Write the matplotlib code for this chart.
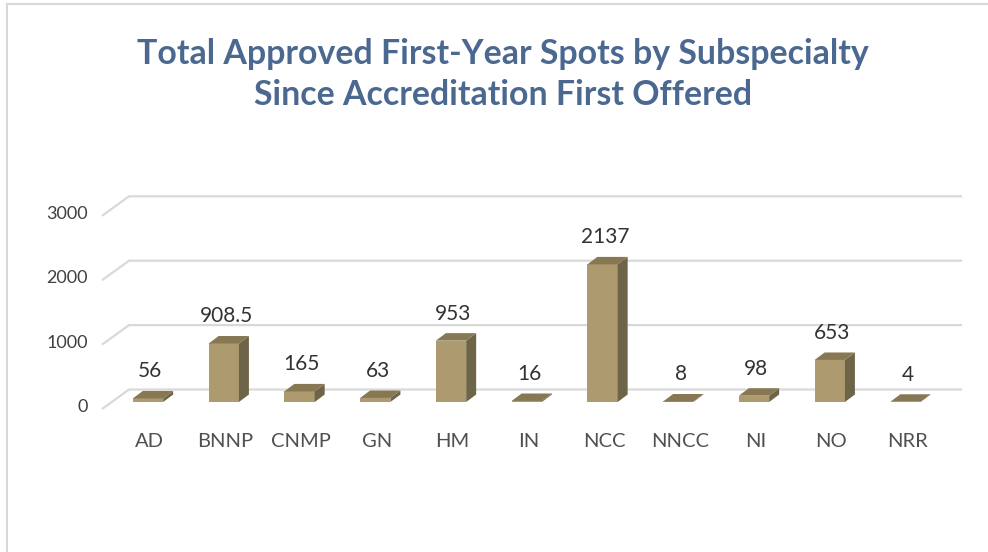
import matplotlib.pyplot as plt
from matplotlib.patches import Polygon
from matplotlib.lines import Line2D

plt.rcParams['font.family'] = ['Lato', 'DejaVu Sans']

categories = ['AD', 'BNNP', 'CNMP', 'GN', 'HM', 'IN', 'NCC', 'NNCC', 'NI', 'NO', 'NRR']
spots = [56, 908.5, 165, 63, 953, 16, 2137, 8, 98, 653, 4]
value_labels = ['56', '908.5', '165', '63', '953', '16', '2137', '8', '98', '653', '4']
grid_values = [0, 1000, 2000, 3000]

front_col = '#ad9a6f'
side_col = '#6e6448'
top_col = '#877753'

fig = plt.figure(figsize=(9.88, 5.52), dpi=100)
ax = fig.add_axes([0, 0, 1, 1])
ax.set_xlim(-1.954, 11.089)
ax.set_ylim(-2329, 6242)
ax.axis('off')

# fake 3d geometry (in data units)
w = 0.40        # bar front width
ddx = 0.132     # depth shift in x
ddy = 116       # depth shift in y
wall_dy = 194   # back wall raised above front baseline
wall_x0 = -0.251
wall_x1 = 10.746
slant_x0 = -0.607

# back-wall gridlines with the slanted left floor edge
for v in grid_values:
    ax.plot([slant_x0, wall_x0, wall_x1], [v - 109, v + wall_dy, v + wall_dy],
            color='#d9d9d9', lw=1.6, solid_capstyle='butt', zorder=1)
    ax.text(slant_x0 - 0.19, v - 80, str(v), ha='right', va='center',
            fontsize=13, color='#404040')

for i, (cat, v, lab) in enumerate(zip(categories, spots, value_labels)):
    x0 = i - w / 2
    x1 = i + w / 2
    front = Polygon([(x0, 0), (x1, 0), (x1, v), (x0, v)], closed=True,
                    facecolor=front_col, edgecolor='none', zorder=3)
    side = Polygon([(x1, 0), (x1 + ddx, ddy), (x1 + ddx, v + ddy), (x1, v)], closed=True,
                   facecolor=side_col, edgecolor='none', zorder=3)
    top = Polygon([(x0, v), (x1, v), (x1 + ddx, v + ddy), (x0 + ddx, v + ddy)], closed=True,
                  facecolor=top_col, edgecolor='none', zorder=4)
    for p in (front, side, top):
        ax.add_patch(p)
    ax.text(i + 0.03, v + 420, lab, ha='center', va='center', fontsize=15, color='#333333', zorder=5)
    ax.text(i + 0.02, -620, cat, ha='center', va='center', fontsize=14.5, color='#505050')

# chart border (left and top only visible)
fig.add_artist(Line2D([7 / 988, 7 / 988], [0, 1 - 4 / 552], transform=fig.transFigure,
                      color='#d9d9d9', lw=1.5))
fig.add_artist(Line2D([7 / 988, 1], [1 - 4 / 552, 1 - 4 / 552], transform=fig.transFigure,
                      color='#d9d9d9', lw=1.5))

fig.text(0.509, 1 - 74.5 / 552,
         'Total Approved First-Year Spots by Subspecialty\nSince Accreditation First Offered',
         ha='center', va='center', fontsize=24.4, fontweight='bold', color='#4a6890',
         linespacing=1.35)

fig.savefig('out.png', dpi=100)
